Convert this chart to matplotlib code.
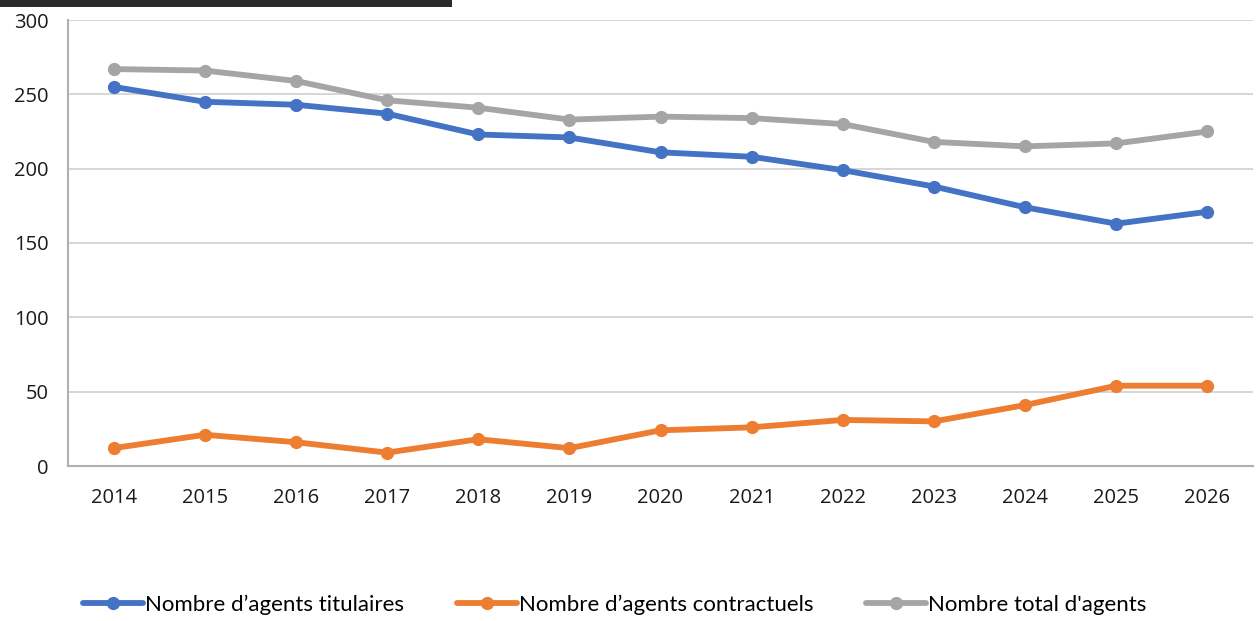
import matplotlib.pyplot as plt
from matplotlib.patches import Rectangle

years = ["2014", "2015", "2016", "2017", "2018", "2019", "2020",
         "2021", "2022", "2023", "2024", "2025", "2026"]
titulaires = [255, 245, 243, 237, 223, 221, 211, 208, 199, 188, 174, 163, 171]
contractuels = [12, 21, 16, 9, 18, 12, 24, 26, 31, 30, 41, 54, 54]
total = [267, 266, 259, 246, 241, 233, 235, 234, 230, 218, 215, 217, 225]

series = [
    ("Nombre d\u2019agents titulaires", titulaires, "#4472C4"),
    ("Nombre d\u2019agents contractuels", contractuels, "#ED7D31"),
    ("Nombre total d'agents", total, "#A5A5A5"),
]

plt.rcParams["font.family"] = ["Open Sans", "DejaVu Sans"]

fig = plt.figure(figsize=(12.57, 6.21), dpi=100)
ax = fig.add_axes([68 / 1257, 1 - 466 / 621, 1185 / 1257, 446 / 621])

x = list(range(len(years)))
for label, values, color in series:
    ax.plot(x, values, color=color, lw=4.2, marker="o", ms=8.5,
            solid_capstyle="round", label=label)

ax.set_xlim(-0.5, len(years) - 0.5)
ax.set_ylim(0, 300)
ax.set_yticks(range(0, 301, 50))
ax.set_xticks(x)
ax.set_xticklabels(years)
ax.tick_params(axis="both", length=0, labelsize=14.5, colors="#1a1a1a")
ax.tick_params(axis="x", pad=16)
ax.tick_params(axis="y", pad=14)
ax.grid(axis="y", color="#d0d0d0", lw=1.2)
ax.set_axisbelow(True)
for side in ["top", "right"]:
    ax.spines[side].set_visible(False)
for side in ["left", "bottom"]:
    ax.spines[side].set_color("#b0b0b0")
    ax.spines[side].set_linewidth(1.5)

leg = fig.legend(loc="center", bbox_to_anchor=(0.489, 0.026), ncol=3,
                 frameon=False, handlelength=2.7, handletextpad=0.08,
                 columnspacing=2.4, prop={"family": "Lato", "size": 16})

# dark strip along the top edge
fig.add_artist(Rectangle((0, 1 - 7 / 621), 452 / 1257, 7 / 621,
                         transform=fig.transFigure, color="#2b2b2b", lw=0))

fig.savefig("out.png", dpi=100)
